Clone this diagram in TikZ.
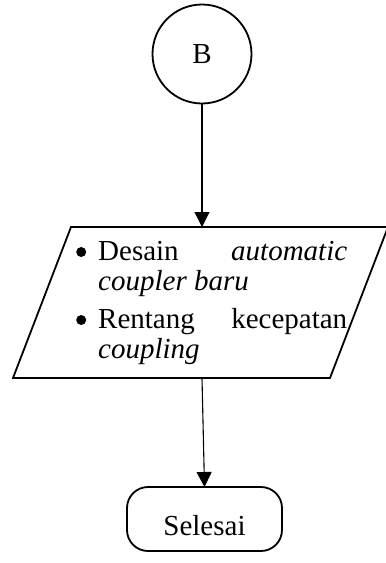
\documentclass[tikz,border=0pt]{standalone}
\usepackage{fontspec}
\setmainfont{Liberation Serif}
\usetikzlibrary{arrows.meta}
\newcommand{\dotmark}{\tikz[baseline=0pt]{\path (0pt,0pt); \fill (6pt,8pt) circle[radius=5pt];}}
\begin{document}
\begin{tikzpicture}[x=1pt,y=-1pt,
  shapeline/.style={draw=black, line width=1.8pt, inner sep=0pt, outer sep=0pt},
  connector/.style={draw=black, line width=1.1pt, -{Triangle[length=15pt,width=15pt]}},
  bigfont/.style={font=\fontsize{29}{30}\selectfont}]
\useasboundingbox (0,0) rectangle (386,563);

% off-page connector
\node[shapeline, circle, minimum size=99pt, bigfont] (conn) at (202,54) {B};

% output (parallelogram)
\coordinate (ioTL) at (71,227);
\coordinate (ioTR) at (388,227);
\coordinate (ioBR) at (330,378);
\coordinate (ioBL) at (13,378);
\draw[shapeline, line join=miter] (ioTL) -- (ioTR) -- (ioBR) -- (ioBL) -- cycle;
\coordinate (ioTop) at (202,227);
\coordinate (ioBot) at (202,378);
\node[bigfont, inner sep=0pt, anchor=base west] (iotext) at (75,260) {%
  \parbox[t]{272pt}{\setlength\parskip{8pt}%
    \hangindent=23pt \hangafter=1
    \makebox[23pt][l]{\dotmark}Desain \textit{automatic coupler baru}\par
    \hangindent=23pt \hangafter=1
    \makebox[23pt][l]{\dotmark}Rentang kecepatan \textit{coupling}\par}};

% terminator
\node[shapeline, rectangle, rounded corners=21pt, minimum width=155pt,
      minimum height=64pt, text height=32pt, text depth=0pt, bigfont]
      (end) at (204.5,519) {Selesai};

\draw[connector] (conn.south) -- (ioTop);
\draw[connector] (ioBot) -- (end.north);
\end{tikzpicture}
\end{document}
